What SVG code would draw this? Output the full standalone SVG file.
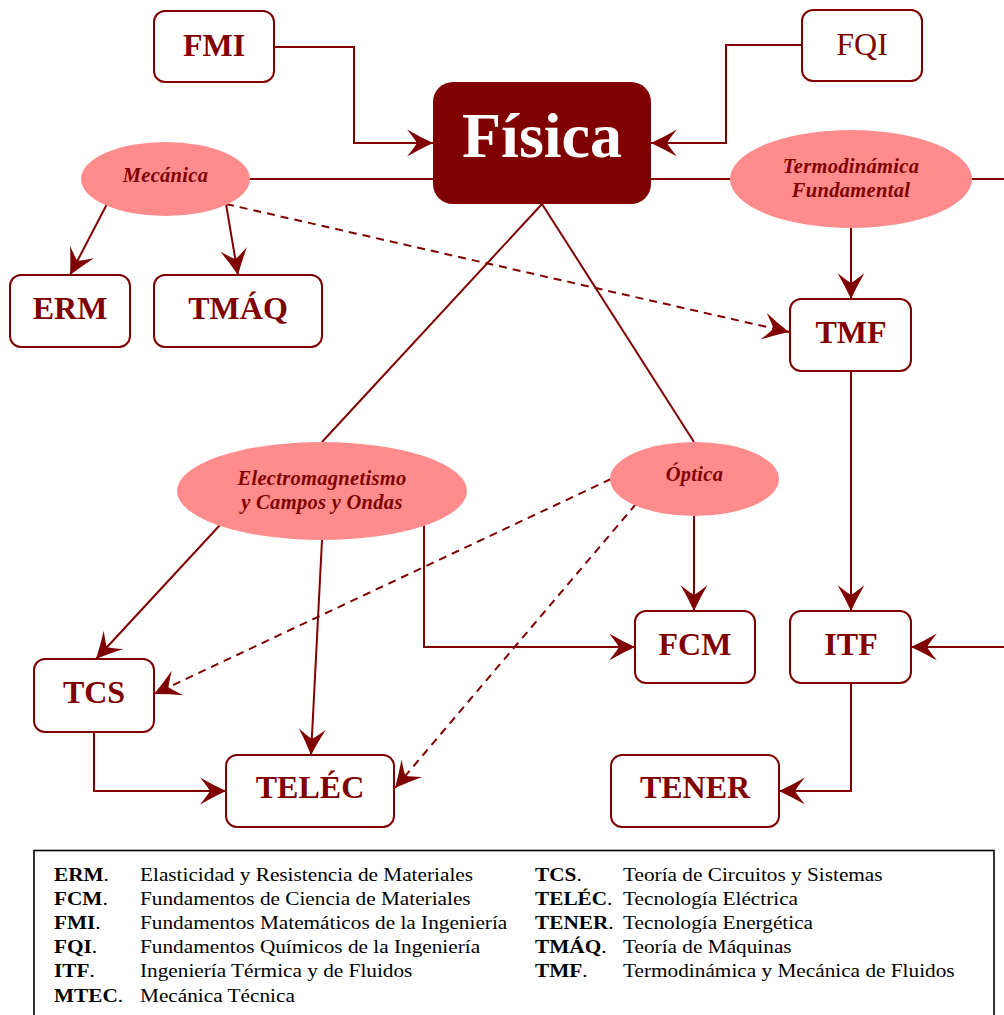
<svg xmlns="http://www.w3.org/2000/svg" width="1004" height="1015" viewBox="0 0 1004 1015">
<style>
.box{fill:#fff;stroke:#800000;stroke-width:2}
.ell{fill:#ff8c8c;stroke:none}
.lbl{font-family:"Liberation Serif","Times New Roman",serif;font-weight:bold;font-size:32px;fill:#800000;text-anchor:middle}
.reg{font-weight:normal}
.it{font-family:"Liberation Serif","Times New Roman",serif;font-weight:bold;font-style:italic;font-size:20.5px;fill:#800000;text-anchor:middle;letter-spacing:0.3px}
.ln{fill:none;stroke:#800000;stroke-width:2}
.ar{marker-end:url(#ah)}
.da{stroke-dasharray:8,6}
.lg{font-family:"Liberation Serif","Times New Roman",serif;font-size:19px;fill:#000}
.lg .b{font-weight:bold}
</style>
<defs>
<marker id="ah" markerUnits="userSpaceOnUse" markerWidth="40" markerHeight="40" viewBox="-30 -20 40 40" refX="0" refY="0" orient="auto">
<path d="M0,0 Q-13,-6 -26,-13.5 Q-19,-5 -16,0 Q-19,5 -26,13.5 Q-13,6 0,0 Z" fill="#800000"/>
</marker>
</defs>
<rect width="1004" height="1015" fill="#fff"/>
<g id="connectors">
<polyline class="ln ar" points="274,47 354,47 354,143 433,143"/>
<polyline class="ln ar" points="802,45 726,45 726,143 651,143"/>
<line class="ln" x1="250" y1="179" x2="433" y2="179"/>
<line class="ln" x1="651" y1="179" x2="731" y2="179"/>
<line class="ln" x1="971" y1="179" x2="1004" y2="179"/>
<line class="ln ar" x1="107" y1="204" x2="70" y2="275"/>
<line class="ln ar" x1="226" y1="204" x2="238" y2="275"/>
<line class="ln ar da" x1="226" y1="204" x2="789" y2="332"/>
<line class="ln ar" x1="851" y1="228" x2="851" y2="299"/>
<line class="ln ar" x1="851" y1="371" x2="851" y2="611"/>
<line class="ln ar" x1="1004" y1="647" x2="911" y2="647"/>
<polyline class="ln ar" points="851,683 851,791 779,791"/>
<line class="ln" x1="542" y1="204" x2="322" y2="442"/>
<line class="ln" x1="542" y1="204" x2="694" y2="442"/>
<line class="ln ar" x1="220" y1="525" x2="96" y2="659"/>
<line class="ln ar" x1="322" y1="540" x2="311" y2="755"/>
<polyline class="ln ar" points="424,525 424,647 635,647"/>
<polyline class="ln ar" points="94,732 94,791 226,791"/>
<line class="ln ar" x1="694" y1="516" x2="694" y2="611"/>
<line class="ln ar da" x1="611" y1="479" x2="154" y2="694"/>
<line class="ln ar da" x1="636" y1="504" x2="395" y2="788"/>
</g>
<g id="fisica">
<rect x="433" y="82" width="218" height="122" rx="20" fill="#800000"/>
<text x="542" y="157" class="lbl" style="font-size:64px;fill:#fff">Física</text>
</g>
<g id="fmi"><rect class="box" x="154" y="11" width="120" height="71" rx="11"/><text class="lbl" x="214" y="56">FMI</text></g>
<g id="fqi"><rect class="box" x="802" y="10" width="120" height="71" rx="11"/><text class="lbl reg" x="862" y="55">FQI</text></g>
<g id="mecanica"><ellipse class="ell" cx="165.5" cy="179" rx="84.5" ry="37"/><text class="it" x="165.5" y="182">Mecánica</text></g>
<g id="termo"><ellipse class="ell" cx="851" cy="179" rx="121" ry="49"/><text class="it" x="851" y="173">Termodinámica</text><text class="it" x="851" y="197">Fundamental</text></g>
<g id="erm"><rect class="box" x="10" y="275" width="120" height="72" rx="11"/><text class="lbl" x="70" y="319">ERM</text></g>
<g id="tmaq"><rect class="box" x="154" y="275" width="168" height="72" rx="11"/><text class="lbl" x="238" y="319">TMÁQ</text></g>
<g id="tmf"><rect class="box" x="790" y="299" width="121" height="72" rx="11"/><text class="lbl" x="851" y="343">TMF</text></g>
<g id="em"><ellipse class="ell" cx="322" cy="491" rx="145" ry="49"/><text class="it" x="322" y="485">Electromagnetismo</text><text class="it" x="322" y="509">y Campos y Ondas</text></g>
<g id="optica"><ellipse class="ell" cx="694.5" cy="479" rx="84.5" ry="37"/><text class="it" x="694.5" y="481">Óptica</text></g>
<g id="tcs"><rect class="box" x="34" y="659" width="120" height="73" rx="11"/><text class="lbl" x="94" y="703">TCS</text></g>
<g id="fcm"><rect class="box" x="635" y="611" width="120" height="72" rx="11"/><text class="lbl" x="695" y="655">FCM</text></g>
<g id="itf"><rect class="box" x="790" y="611" width="121" height="72" rx="11"/><text class="lbl" x="851" y="655">ITF</text></g>
<g id="telec"><rect class="box" x="226" y="755" width="168" height="72" rx="11"/><text class="lbl" x="310" y="798">TELÉC</text></g>
<g id="tener"><rect class="box" x="611" y="755" width="168" height="72" rx="11"/><text class="lbl" x="695" y="798">TENER</text></g>
<g id="legend">
<rect x="34" y="850.5" width="960" height="200" fill="none" stroke="#000" stroke-width="1.6"/>
<g class="lg" transform="scale(1.12,1)">
<text x="48.2" y="881"><tspan class="b">ERM</tspan>.</text><text x="125" y="881">Elasticidad y Resistencia de Materiales</text>
<text x="48.2" y="905"><tspan class="b">FCM</tspan>.</text><text x="125" y="905">Fundamentos de Ciencia de Materiales</text>
<text x="48.2" y="929"><tspan class="b">FMI</tspan>.</text><text x="125" y="929">Fundamentos Matemáticos de la Ingeniería</text>
<text x="48.2" y="953"><tspan class="b">FQI</tspan>.</text><text x="125" y="953">Fundamentos Químicos de la Ingeniería</text>
<text x="48.2" y="977"><tspan class="b">ITF</tspan>.</text><text x="125" y="977">Ingeniería Térmica y de Fluidos</text>
<text x="48.2" y="1002"><tspan class="b">MTEC</tspan>.</text><text x="125" y="1002">Mecánica Técnica</text>
<text x="477.7" y="881"><tspan class="b">TCS</tspan>.</text><text x="556.3" y="881">Teoría de Circuitos y Sistemas</text>
<text x="477.7" y="905"><tspan class="b">TELÉC</tspan>.</text><text x="556.3" y="905">Tecnología Eléctrica</text>
<text x="477.7" y="929"><tspan class="b">TENER</tspan>.</text><text x="556.3" y="929">Tecnología Energética</text>
<text x="477.7" y="953"><tspan class="b">TMÁQ</tspan>.</text><text x="556.3" y="953">Teoría de Máquinas</text>
<text x="477.7" y="977"><tspan class="b">TMF</tspan>.</text><text x="556.3" y="977">Termodinámica y Mecánica de Fluidos</text>
</g>
</g>
</svg>
